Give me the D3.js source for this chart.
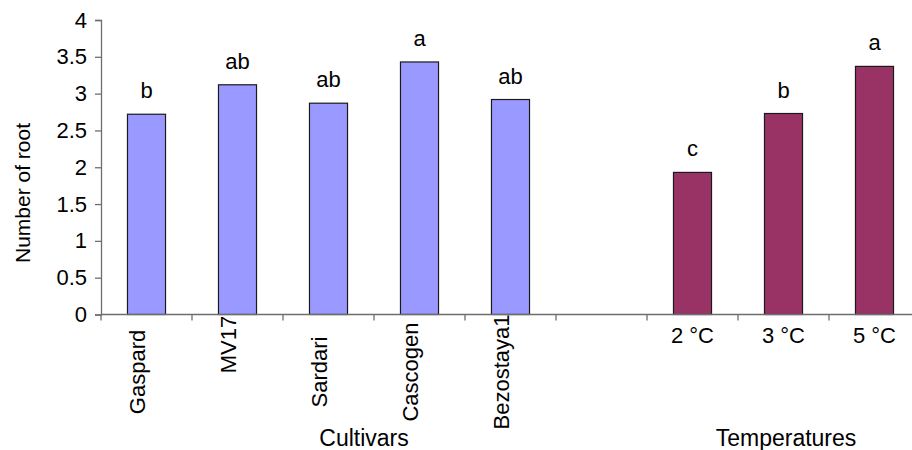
<!DOCTYPE html>
<html>
<head>
<meta charset="utf-8">
<script src="https://cdn.jsdelivr.net/npm/d3@7"></script>
<style>
  body { margin: 0; background: #fff; }
  text { font-family: Arial, "Liberation Sans", sans-serif; fill: #000; }
</style>
</head>
<body>
<svg id="chart" width="912" height="450"></svg>
<script>
// Mean number of roots per cultivar and per temperature treatment
const cultivars = ["Gaspard", "\u00a0\u00a0\u00a0\u00a0\u00a0\u00a0\u00a0\u00a0\u00a0MV17", "Sardari", "Cascogen", "Bezostaya1"];
const cultivarValues = [2.72, 3.12, 2.87, 3.43, 2.92];
const cultivarLetters = ["b", "ab", "ab", "a", "ab"];

const temperatures = ["2 °C", "3 °C", "5 °C"];
const temperatureValues = [1.93, 2.73, 3.37];
const temperatureLetters = ["c", "b", "a"];

const yTicks = [0, 0.5, 1, 1.5, 2, 2.5, 3, 3.5, 4];
const yTitle = "Number of root";
const groupTitles = ["Cultivars", "Temperatures"];

const cultivarColor = "#9999ff";
const temperatureColor = "#993366";
const axisColor = "#6e6e6e";

const svg = d3.select("#chart");

// one empty slot separates the two groups
const slots = [...cultivars, "__gap__", ...temperatures];

const x = d3.scaleBand()
  .domain(slots)
  .range([101, 920])
  .paddingInner(0.582)
  .paddingOuter(0.291);

const y = d3.scaleLinear().domain([0, 4]).range([314.5, 20]);

const bars = [
  ...cultivars.map((c, i) => ({ key: c, value: cultivarValues[i], letter: cultivarLetters[i], color: cultivarColor })),
  ...temperatures.map((t, i) => ({ key: t, value: temperatureValues[i], letter: temperatureLetters[i], color: temperatureColor }))
];

// y axis
const yAxis = svg.append("g")
  .attr("transform", "translate(101,0)")
  .call(d3.axisLeft(y).tickValues(yTicks).tickSize(6).tickPadding(8).tickFormat(d3.format("")));
yAxis.select(".domain").attr("stroke", axisColor).attr("stroke-width", 1.3);
yAxis.selectAll(".tick line").attr("stroke", axisColor).attr("stroke-width", 1.3);
yAxis.selectAll(".tick text").attr("font-size", 22).attr("font-family", "Arial, 'Liberation Sans', sans-serif").attr("fill", "#000");

// bars
svg.append("g").selectAll("rect")
  .data(bars)
  .join("rect")
  .attr("x", d => x(d.key))
  .attr("y", d => y(d.value))
  .attr("width", x.bandwidth())
  .attr("height", d => y(0) - y(d.value))
  .attr("fill", d => d.color)
  .attr("stroke", "#1a1a1a")
  .attr("stroke-width", 1.2);

// significance letters
svg.append("g").selectAll("text")
  .data(bars)
  .join("text")
  .attr("x", d => x(d.key) + x.bandwidth() / 2)
  .attr("y", d => y(d.value) - 16)
  .attr("text-anchor", "middle")
  .attr("font-size", 22)
  .text(d => d.letter);

// x axis line and category boundary ticks
const x0 = y(0);
svg.append("line")
  .attr("x1", 101).attr("x2", 912)
  .attr("y1", x0).attr("y2", x0)
  .attr("stroke", axisColor).attr("stroke-width", 1.3);

const bounds = d3.range(slots.length + 1).map(i => x.range()[0] + i * x.step());
svg.append("g").selectAll("line")
  .data(bounds)
  .join("line")
  .attr("x1", d => d).attr("x2", d => d)
  .attr("y1", x0).attr("y2", x0 + 6)
  .attr("stroke", axisColor).attr("stroke-width", 1.3);

// cultivar names, rotated
svg.append("g").selectAll("text")
  .data(cultivars)
  .join("text")
  .attr("transform", d => `translate(${x(d) + x.bandwidth() / 2 - 2},372) rotate(-90)`)
  .attr("text-anchor", "middle")
  .attr("font-size", 22)
  .style("white-space", "pre")
  .text(d => d);

// temperature names, horizontal
svg.append("g").selectAll("text")
  .data(temperatures)
  .join("text")
  .attr("x", d => x(d) + x.bandwidth() / 2)
  .attr("y", 343)
  .attr("text-anchor", "middle")
  .attr("font-size", 22)
  .text(d => d);

// axis titles
svg.append("text")
  .attr("transform", "translate(30,193) rotate(-90)")
  .attr("text-anchor", "middle")
  .attr("font-size", 21)
  .text(yTitle);

svg.append("text")
  .attr("x", 364).attr("y", 446)
  .attr("text-anchor", "middle")
  .attr("font-size", 23)
  .text(groupTitles[0]);

svg.append("text")
  .attr("x", 786).attr("y", 446)
  .attr("text-anchor", "middle")
  .attr("font-size", 23)
  .text(groupTitles[1]);
</script>
</body>
</html>
